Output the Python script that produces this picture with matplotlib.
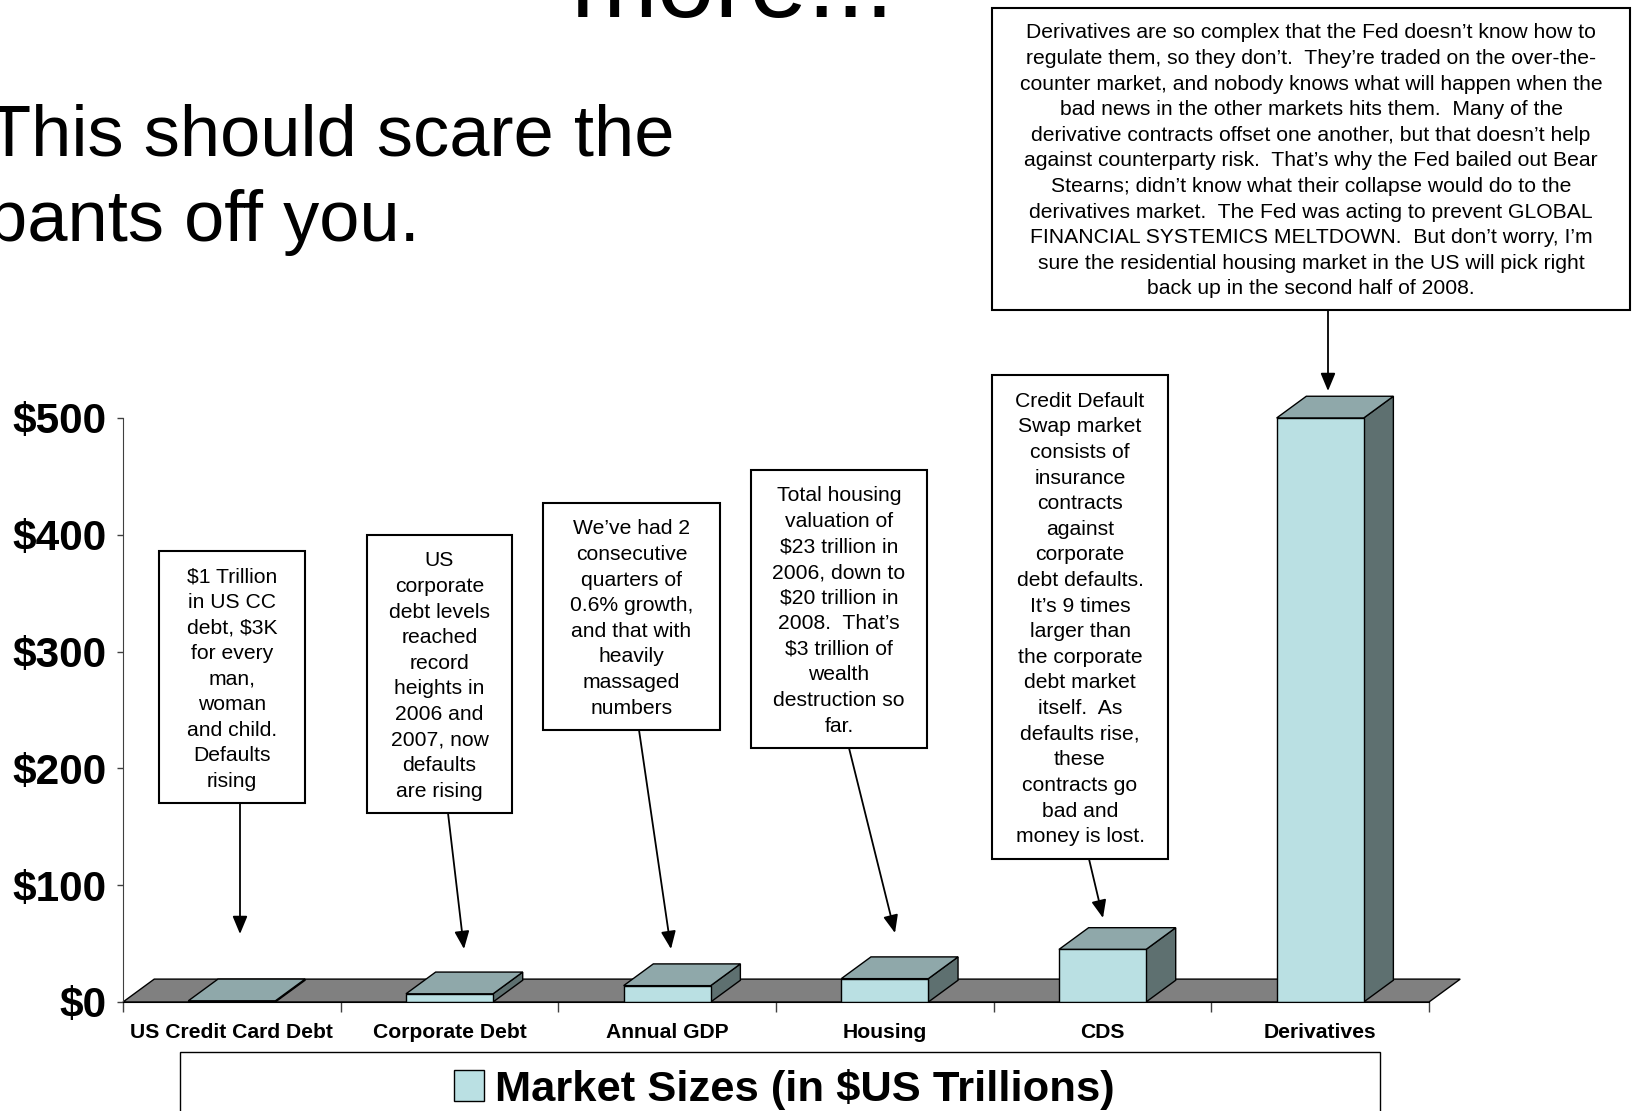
import matplotlib
matplotlib.use("Agg")
import matplotlib.pyplot as plt
from matplotlib.patches import Polygon, Rectangle, FancyArrowPatch

plt.rcParams['font.family'] = ['Liberation Sans', 'DejaVu Sans']

# ---------------- data ----------------
categories = ["US Credit Card Debt", "Corporate Debt", "Annual GDP", "Housing", "CDS", "Derivatives"]
values = [1, 7, 14, 20, 45, 500]
ytick_values = [0, 100, 200, 300, 400, 500]
ytick_labels = ["$0", "$100", "$200", "$300", "$400", "$500"]
series_label = "Market Sizes (in $US Trillions)"

notes = [
    "$1 Trillion\nin US CC\ndebt, $3K\nfor every\nman,\nwoman\nand child.\nDefaults\nrising",
    "US\ncorporate\ndebt levels\nreached\nrecord\nheights in\n2006 and\n2007, now\ndefaults\nare rising",
    "We\u2019ve had 2\nconsecutive\nquarters of\n0.6% growth,\nand that with\nheavily\nmassaged\nnumbers",
    "Total housing\nvaluation of\n$23 trillion in\n2006, down to\n$20 trillion in\n2008.  That\u2019s\n$3 trillion of\nwealth\ndestruction so\nfar.",
    "Credit Default\nSwap market\nconsists of\ninsurance\ncontracts\nagainst\ncorporate\ndebt defaults.\nIt\u2019s 9 times\nlarger than\nthe corporate\ndebt market\nitself.  As\ndefaults rise,\nthese\ncontracts go\nbad and\nmoney is lost.",
    "Derivatives are so complex that the Fed doesn\u2019t know how to\nregulate them, so they don\u2019t.  They\u2019re traded on the over-the-\ncounter market, and nobody knows what will happen when the\nbad news in the other markets hits them.  Many of the\nderivative contracts offset one another, but that doesn\u2019t help\nagainst counterparty risk.  That\u2019s why the Fed bailed out Bear\nStearns; didn\u2019t know what their collapse would do to the\nderivatives market.  The Fed was acting to prevent GLOBAL\nFINANCIAL SYSTEMICS MELTDOWN.  But don\u2019t worry, I\u2019m\nsure the residential housing market in the US will pick right\nback up in the second half of 2008.",
]

# ---------------- layout helpers (figure pixels, origin top-left) ----------------
W, H = 1632, 1111
fig = plt.figure(figsize=(W / 100, H / 100), dpi=100)
fig.patch.set_facecolor("white")

def fx(x):
    return x / W

def fy(y):
    return 1 - y / H

FRONT = "#BAE0E3"
TOP = "#8FA8AA"
SIDE = "#5E7070"
FLOOR = "#808080"

# ---------------- slide text ----------------
fig.text(fx(570), fy(17), "more...", fontsize=75, ha="left", va="baseline")
fig.text(fx(-13), fy(156), "This should scare the", fontsize=52, ha="left", va="baseline")
fig.text(fx(-13), fy(241), "pants off you.", fontsize=52, ha="left", va="baseline")

# ---------------- chart axes ----------------
y0_px, y500_px = 1002, 418
ppu = (y0_px - y500_px) / 500.0
ymax = 520
ax_h = ymax * ppu
ax = fig.add_axes([fx(123), fy(y0_px), fx(1429 - 123), ax_h / H])
ax.set_xlim(-0.5, len(categories) - 0.5)
ax.set_ylim(0, ymax)
ax.patch.set_alpha(0)

# depth offsets (data units)
ddx = 0.1435
ddy = 19.6
bw = 0.40
bdx = ddx * 0.95
bdy = ddy * 0.95

floor = Polygon([(-0.5, 0), (len(categories) - 0.5, 0),
                 (len(categories) - 0.5 + ddx, ddy), (-0.5 + ddx, ddy)],
                closed=True, facecolor=FLOOR, edgecolor="black", lw=1.0,
                clip_on=False, zorder=1)
ax.add_patch(floor)

xs = list(range(len(categories)))
bars = ax.bar(xs, values, width=bw, color=FRONT, edgecolor="black", lw=1.0,
              zorder=4, label=series_label)
for x, v in zip(xs, values):
    x0, x1 = x - bw / 2, x + bw / 2
    side = Polygon([(x1, 0), (x1 + bdx, bdy), (x1 + bdx, v + bdy), (x1, v)],
                   closed=True, facecolor=SIDE, edgecolor="black", lw=1.0,
                   clip_on=False, zorder=3)
    top = Polygon([(x0, v), (x1, v), (x1 + bdx, v + bdy), (x0 + bdx, v + bdy)],
                  closed=True, facecolor=TOP, edgecolor="black", lw=1.0,
                  clip_on=False, zorder=3)
    ax.add_patch(side)
    ax.add_patch(top)

# axes styling
for s in ("top", "right"):
    ax.spines[s].set_visible(False)
ax.spines["left"].set_bounds(0, 500)
ax.spines["left"].set_color("#404040")
ax.spines["bottom"].set_color("black")
ax.spines["bottom"].set_zorder(5)

ax.set_yticks(ytick_values)
ax.set_yticklabels(ytick_labels, fontsize=30.5, fontweight="bold")
ax.tick_params(axis="y", direction="out", length=4, width=1, color="#404040", pad=8)

ax.set_xticks([i - 0.5 for i in range(len(categories) + 1)])
ax.set_xticklabels([])
ax.tick_params(axis="x", which="major", direction="out", length=7, width=1, color="#404040")
ax.set_xticks(xs, minor=True)
ax.set_xticklabels(categories, minor=True, fontsize=15.2, fontweight="bold")
ax.tick_params(axis="x", which="minor", length=0, pad=15)

# ---------------- legend ----------------
fig.add_artist(Rectangle((fx(180), fy(1130)), fx(1380 - 180), (1130 - 1052) / H,
                         transform=fig.transFigure, facecolor="white",
                         edgecolor="black", lw=1.0, zorder=0))
leg = fig.legend(handles=[bars], labels=[series_label], loc="center",
                 bbox_to_anchor=(fx(784), fy(1089)), frameon=False,
                 prop={"size": 31.3, "weight": "bold"}, handlelength=0.7,
                 handleheight=0.7, handletextpad=0.25, borderpad=0)

# ---------------- annotation boxes ----------------
boxes = [
    (159, 551, 305, 803),
    (367, 535, 512, 813),
    (543, 503, 720, 730),
    (751, 470, 927, 748),
    (992, 375, 1168, 859),
    (992, 8, 1630, 310),
]
arrows = [
    ((240, 803), (240, 934)),
    ((448, 813), (464, 949)),
    ((639, 730), (671, 949)),
    ((849, 748), (895, 933)),
    ((1089, 859), (1103, 918)),
    ((1328, 310), (1328, 391)),
]
for (l, t, r, b), txt in zip(boxes, notes):
    fig.add_artist(Rectangle((fx(l), fy(b)), (r - l) / W, (b - t) / H,
                             transform=fig.transFigure, facecolor="white",
                             edgecolor="black", lw=1.5, zorder=6))
    fig.text(fx((l + r) / 2), fy((t + b) / 2 + 2), txt, fontsize=15.2,
             ha="center", va="center", multialignment="center",
             linespacing=1.44, zorder=7)

for (a, b) in arrows:
    fig.add_artist(FancyArrowPatch((fx(a[0]), fy(a[1])), (fx(b[0]), fy(b[1])),
                                   transform=fig.transFigure,
                                   arrowstyle="-|>,head_length=0.6,head_width=0.25",
                                   mutation_scale=18, color="black", lw=1.3,
                                   shrinkA=0, shrinkB=0, zorder=8))

fig.savefig("out.png", dpi=100, facecolor="white")
